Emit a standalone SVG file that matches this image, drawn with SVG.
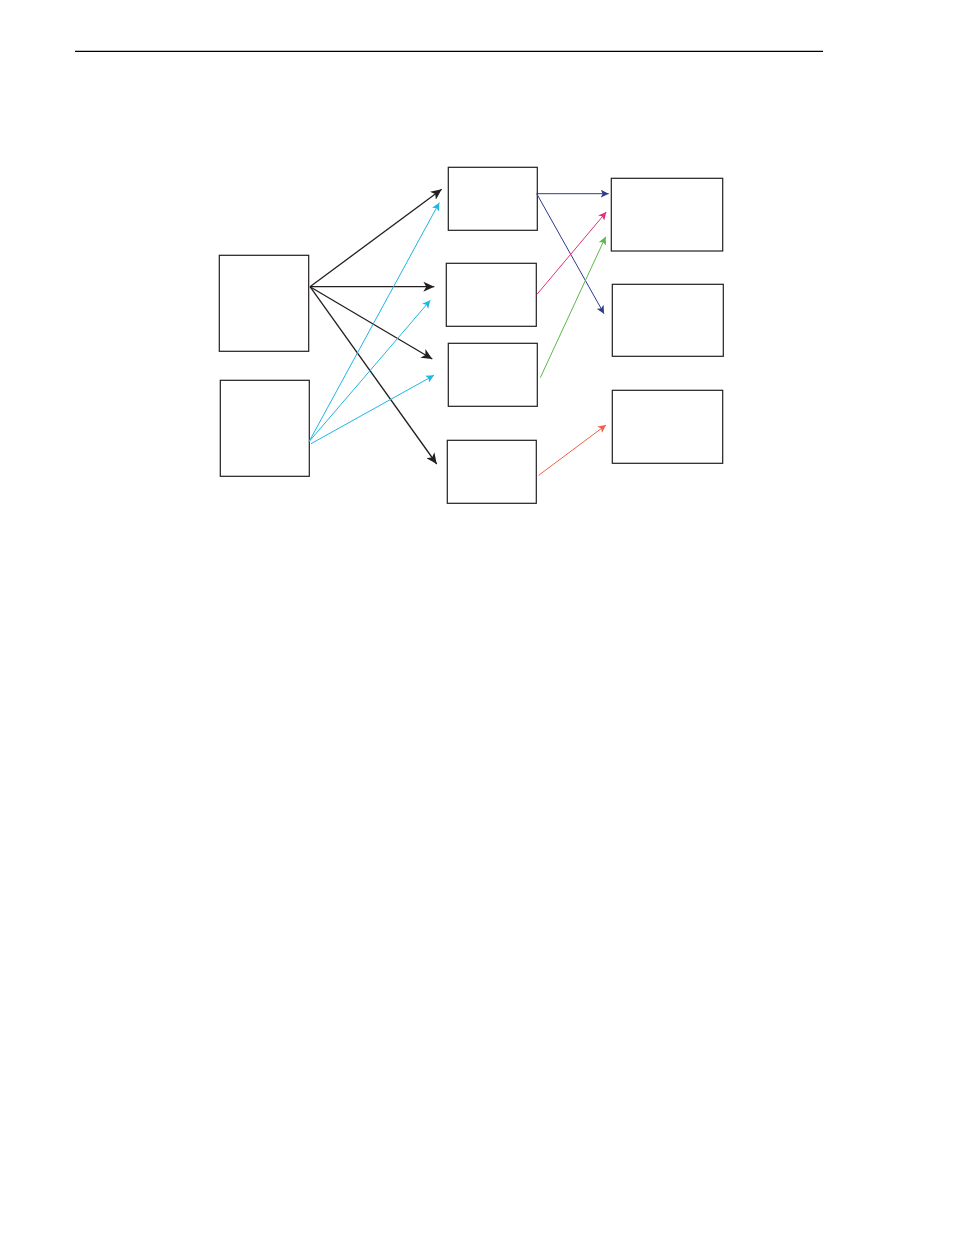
<svg xmlns="http://www.w3.org/2000/svg" width="954" height="1235" viewBox="0 0 954 1235">
<style>
.box{fill:#fff;stroke:#231f20;stroke-width:1.2}
.k{stroke:#231f20;stroke-width:1.3;fill:none}
.c{stroke:#1fb6e3;stroke-width:1;fill:none}
.n{stroke:#2e3a8f;stroke-width:1;fill:none}
.m{stroke:#e0307a;stroke-width:1;fill:none}
.g{stroke:#5bb84a;stroke-width:1;fill:none}
.r{stroke:#f0604a;stroke-width:1;fill:none}
</style>
<defs>
<marker id="ak" markerUnits="userSpaceOnUse" markerWidth="12" markerHeight="10" refX="11" refY="5" orient="auto"><path d="M0,0 L11,5 L0,10 L3,5 Z" fill="#231f20"/></marker>
<marker id="ac" markerUnits="userSpaceOnUse" markerWidth="9" markerHeight="8" refX="8" refY="4" orient="auto"><path d="M0,0 L8,4 L0,8 L2,4 Z" fill="#1fb6e3"/></marker>
<marker id="an" markerUnits="userSpaceOnUse" markerWidth="9" markerHeight="8" refX="8" refY="4" orient="auto"><path d="M0,0 L8,4 L0,8 L2,4 Z" fill="#2e3a8f"/></marker>
<marker id="am" markerUnits="userSpaceOnUse" markerWidth="9" markerHeight="8" refX="8" refY="4" orient="auto"><path d="M0,0 L8,4 L0,8 L2,4 Z" fill="#e0307a"/></marker>
<marker id="ag" markerUnits="userSpaceOnUse" markerWidth="9" markerHeight="8" refX="8" refY="4" orient="auto"><path d="M0,0 L8,4 L0,8 L2,4 Z" fill="#5bb84a"/></marker>
<marker id="ar" markerUnits="userSpaceOnUse" markerWidth="9" markerHeight="8" refX="8" refY="4" orient="auto"><path d="M0,0 L8,4 L0,8 L2,4 Z" fill="#f0604a"/></marker>
</defs>
<rect width="954" height="1235" fill="#fff"/>
<line x1="75" y1="51.3" x2="823" y2="51.3" stroke="#000" stroke-width="1.2"/>
<g id="src1"><rect class="box" x="219.3" y="255.3" width="89.4" height="96"/></g>
<g id="src2"><rect class="box" x="220.3" y="380.3" width="89" height="96"/></g>
<g id="mid1"><rect class="box" x="448.3" y="167.3" width="89" height="63"/></g>
<g id="mid2"><rect class="box" x="446.3" y="263.3" width="90" height="63"/></g>
<g id="mid3"><rect class="box" x="448.3" y="343.3" width="89" height="63"/></g>
<g id="mid4"><rect class="box" x="447.3" y="440.3" width="89" height="63"/></g>
<g id="dst1"><rect class="box" x="611.3" y="178.3" width="111.4" height="72.7"/></g>
<g id="dst2"><rect class="box" x="612.3" y="284.3" width="111" height="72"/></g>
<g id="dst3"><rect class="box" x="612.3" y="390.3" width="110.4" height="73"/></g>
<g id="connectors">
<line class="k" x1="310" y1="286.7" x2="441.7" y2="189.3" marker-end="url(#ak)"/>
<line class="k" x1="310" y1="286.7" x2="434.3" y2="286.7" marker-end="url(#ak)"/>
<line class="k" x1="310" y1="286.7" x2="432.3" y2="359" marker-end="url(#ak)"/>
<line class="k" x1="310" y1="286.7" x2="436.7" y2="464" marker-end="url(#ak)"/>
<line class="c" x1="309" y1="441.7" x2="439.3" y2="202.7" marker-end="url(#ac)"/>
<line class="c" x1="309" y1="441.7" x2="430.3" y2="300.3" marker-end="url(#ac)"/>
<line class="c" x1="311" y1="443.7" x2="434" y2="375.3" marker-end="url(#ac)"/>
<line class="n" x1="536.7" y1="193.7" x2="608.7" y2="193.7" marker-end="url(#an)"/>
<line class="n" x1="536.7" y1="193.7" x2="604" y2="313.7" marker-end="url(#an)"/>
<line class="m" x1="537" y1="294.3" x2="606.3" y2="212" marker-end="url(#am)"/>
<line class="g" x1="540.3" y1="377.7" x2="605.7" y2="236.7" marker-end="url(#ag)"/>
<line class="r" x1="538.7" y1="475.3" x2="606" y2="425" marker-end="url(#ar)"/>
</g>
</svg>
